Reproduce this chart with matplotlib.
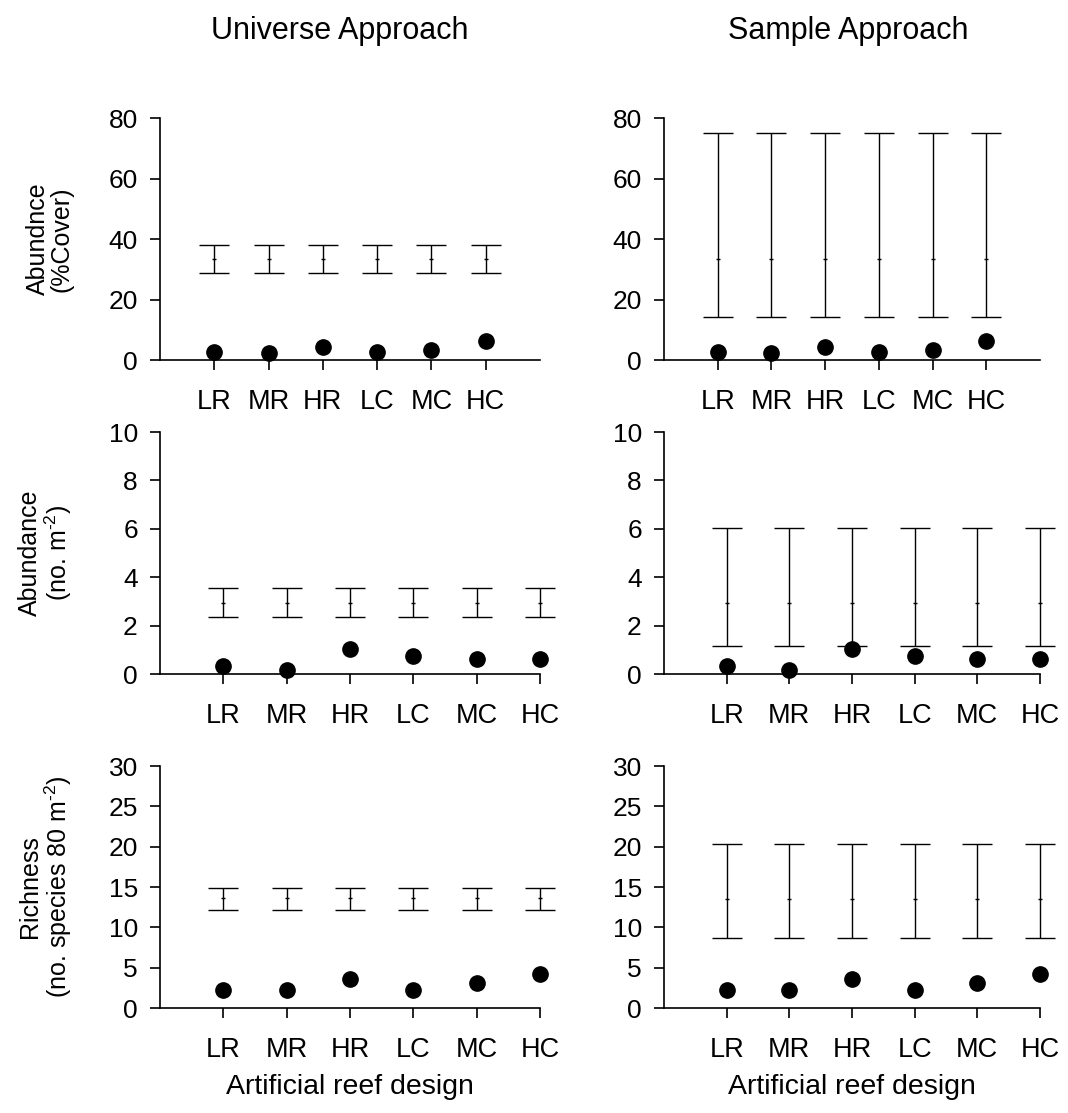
import matplotlib.pyplot as plt
import numpy as np

plt.rcParams['font.family'] = ['Liberation Sans', 'DejaVu Sans']
plt.rcParams['mathtext.fontset'] = 'custom'
plt.rcParams['mathtext.rm'] = 'Liberation Sans'
plt.rcParams['mathtext.it'] = 'Liberation Sans'

designs = ['LR', 'MR', 'HR', 'LC', 'MC', 'HC']

# observed means (dots)
cover_obs = [2.5, 2.4, 4.3, 2.5, 3.2, 6.3]
abund_obs = [0.35, 0.16, 1.05, 0.75, 0.63, 0.63]
rich_obs = [2.2, 2.2, 3.55, 2.2, 3.05, 4.2]

# null-model intervals: (low, mid, high)
cover_univ = (28.7, 33.5, 38.1)
cover_samp = (14.1, 33.3, 75.0)
abund_univ = (2.35, 2.95, 3.56)
abund_samp = (1.16, 2.93, 6.02)
rich_univ = (12.2, 13.6, 14.9)
rich_samp = (8.7, 13.5, 20.4)

ylabels = ['Abundnce\n(%Cover)', 'Abundance\n(no. m$^{\\text{-2}}$)',
           'Richness\n(no. species 80 m$^{\\text{-2}}$)']
ylims = [(0, 80), (0, 10), (0, 30)]
yticks = [np.arange(0, 81, 20), np.arange(0, 11, 2), np.arange(0, 31, 5)]
obs = [cover_obs, abund_obs, rich_obs]
intervals = [[cover_univ, cover_samp], [abund_univ, abund_samp], [rich_univ, rich_samp]]

fig = plt.figure(figsize=(10.68, 11.13), dpi=100)

rows_bottom = [0.6765, 0.3944, 0.0943]
h = 0.2174
cols = [(0.1498, 0.3558), (0.6217, 0.352)]

for r in range(3):
    for c in range(2):
        ax = fig.add_axes([cols[c][0], rows_bottom[r], cols[c][1], h])
        x = np.arange(1, 7)
        lo, mid, hi = intervals[r][c]
        n = len(designs)
        mids = np.full(n, mid)
        err = [np.full(n, mid - lo), np.full(n, hi - mid)]
        eb = ax.errorbar(x, mids, yerr=err, fmt='none', ecolor='black',
                         elinewidth=1.0, capsize=10.5, capthick=1.0)
        for a in eb.lines[1] + eb.lines[2]:
            a.set_clip_on(False)
        ax.plot(x, mids, ls='none', marker='_', color='black', ms=3, mew=1,
                clip_on=False)
        ax.plot(x, obs[r], 'o', color='black', ms=11, clip_on=False, zorder=5)
        ax.set_ylim(*ylims[r])
        ax.set_yticks(yticks[r])
        ax.set_xlim(0, 7 if r == 0 else 6)
        ax.set_xticks(x)
        ax.set_xticklabels(designs)
        ax.spines['top'].set_visible(False)
        ax.spines['right'].set_visible(False)
        for s in ['left', 'bottom']:
            ax.spines[s].set_linewidth(1.2)
        ax.tick_params(axis='y', labelsize=19, length=7, width=1.2, pad=9)
        ax.tick_params(axis='x', labelsize=19.5, length=7, width=1.2, pad=14)
        if c == 0:
            ax.set_ylabel(ylabels[r], fontsize=18, labelpad=25, linespacing=1.0)
        if r == 2:
            ax.set_xlabel('Artificial reef design', fontsize=20.5, labelpad=8)

fig.text(0.318, 0.972, 'Universe Approach', fontsize=22, ha='center', va='center')
fig.text(0.794, 0.972, 'Sample Approach', fontsize=22, ha='center', va='center')

fig.savefig('out.png', dpi=100)
